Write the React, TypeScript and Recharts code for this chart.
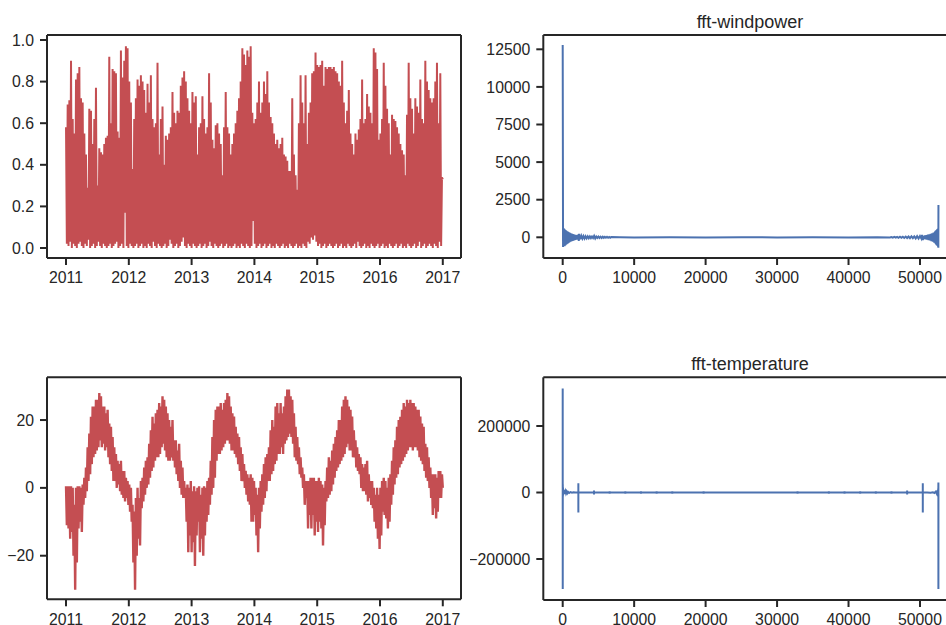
import { LineChart, Line, XAxis, YAxis, ReferenceLine } from "recharts";

// tick labels
const years = [2011, 2012, 2013, 2014, 2015, 2016, 2017];
const windTicks = [0, 0.2, 0.4, 0.6, 0.8, 1.0];
const tempTicks = [-20, 0, 20];
const binTicks = [0, 10000, 20000, 30000, 40000, 50000];
const fftWindTicks = [0, 2500, 5000, 7500, 10000, 12500];
const fftTempTicks = [-200000, 0, 200000];

// windpower: per-column max / min, 2011 -> 2017
const windMax = [
  0.58, 0.69, 0.71, 0.9, 0.62, 0.55, 0.81, 0.84, 0.87, 0.72, 0.7, 0.55, 0.45, 0.29, 0.67, 0.66, 0.5, 0.62, 0.77, 0.3,
  0.48, 0.46, 0.45, 0.5, 0.53, 0.54, 0.92, 0.6, 0.86, 0.85, 0.84, 0.56, 0.53, 0.95, 0.82, 0.9, 0.97, 0.96, 0.8, 0.7,
  0.38, 0.62, 0.72, 0.81, 0.78, 0.83, 0.8, 0.76, 0.65, 0.79, 0.7, 0.83, 0.62, 0.58, 0.6, 0.89, 0.45, 0.62, 0.68, 0.4,
  0.54, 0.52, 0.55, 0.58, 0.75, 0.65, 0.6, 0.66, 0.65, 0.78, 0.82, 0.85, 0.8, 0.72, 0.66, 0.6, 0.75, 0.7, 0.73, 0.45,
  0.58, 0.6, 0.73, 0.62, 0.55, 0.58, 0.84, 0.7, 0.52, 0.48, 0.59, 0.6, 0.55, 0.5, 0.35, 0.58, 0.75, 0.58, 0.55, 0.45,
  0.5, 0.55, 0.6, 0.66, 0.72, 0.8, 0.96, 0.93, 0.88, 0.95, 0.92, 0.97, 0.65, 0.6, 0.62, 0.7, 0.8, 0.65, 0.7, 0.8,
  0.74, 0.85, 0.7, 0.63, 0.6, 0.55, 0.5, 0.52, 0.48, 0.5, 0.53, 0.45, 0.44, 0.42, 0.37, 0.37, 0.72, 0.45, 0.35, 0.28,
  0.6, 0.83, 0.7, 0.6, 0.83, 0.5, 0.65, 0.7, 0.84, 0.85, 0.94, 0.88, 0.87, 0.88, 0.9, 0.78, 0.87, 0.86, 0.87, 0.87,
  0.86, 0.87, 0.85, 0.84, 0.8, 0.78, 0.9, 0.7, 0.6, 0.66, 0.76, 0.55, 0.5, 0.45, 0.55, 0.52, 0.57, 0.62, 0.81, 0.6,
  0.62, 0.74, 0.68, 0.65, 0.6, 0.96, 0.94, 0.86, 0.52, 0.55, 0.62, 0.89, 0.78, 0.67, 0.6, 0.45, 0.64, 0.62, 0.61, 0.58,
  0.55, 0.5, 0.47, 0.45, 0.35, 0.64, 0.89, 0.72, 0.67, 0.55, 0.72, 0.68, 0.65, 0.81, 0.62, 0.6, 0.9, 0.8, 0.76, 0.72,
  0.7, 0.72, 0.8, 0.89, 0.6, 0.84, 0.34,
];
const windMin = [
  0.02, 0.01, 0.03, 0.0, 0.02, 0.01, 0.0, 0.02, 0.03, 0.01, 0.0, 0.02, 0.01, 0.04, 0.0, 0.01, 0.02, 0.0, 0.01, 0.03,
  0.01, 0.0, 0.02, 0.01, 0.0, 0.01, 0.02, 0.0, 0.01, 0.02, 0.03, 0.0, 0.01, 0.02, 0.0, 0.17, 0.01, 0.0, 0.02, 0.01,
  0.0, 0.01, 0.02, 0.0, 0.01, 0.02, 0.0, 0.01, 0.0, 0.02, 0.01, 0.0, 0.03, 0.01, 0.0, 0.02, 0.01, 0.0, 0.01, 0.02,
  0.0, 0.01, 0.04, 0.02, 0.0, 0.01, 0.02, 0.0, 0.01, 0.03, 0.05, 0.01, 0.0, 0.02, 0.01, 0.0, 0.02, 0.01, 0.0, 0.01,
  0.02, 0.0, 0.01, 0.02, 0.0, 0.01, 0.03, 0.01, 0.0, 0.02, 0.01, 0.0, 0.01, 0.02, 0.0, 0.01, 0.02, 0.0, 0.01, 0.0,
  0.01, 0.02, 0.0, 0.01, 0.0, 0.02, 0.01, 0.0, 0.02, 0.01, 0.0, 0.01, 0.13, 0.02, 0.0, 0.01, 0.02, 0.0, 0.01, 0.02,
  0.0, 0.01, 0.02, 0.0, 0.01, 0.0, 0.02, 0.01, 0.0, 0.01, 0.02, 0.0, 0.01, 0.0, 0.02, 0.01, 0.0, 0.01, 0.02, 0.0,
  0.01, 0.0, 0.02, 0.01, 0.0, 0.03, 0.02, 0.05, 0.04, 0.06, 0.03, 0.01, 0.02, 0.0, 0.01, 0.02, 0.0, 0.01, 0.02, 0.01,
  0.0, 0.01, 0.02, 0.0, 0.01, 0.02, 0.0, 0.01, 0.0, 0.02, 0.01, 0.0, 0.01, 0.02, 0.0, 0.03, 0.01, 0.0, 0.01, 0.02,
  0.0, 0.01, 0.0, 0.02, 0.01, 0.0, 0.01, 0.02, 0.0, 0.01, 0.02, 0.0, 0.01, 0.0, 0.02, 0.01, 0.0, 0.01, 0.02, 0.0,
  0.01, 0.02, 0.0, 0.01, 0.0, 0.02, 0.01, 0.0, 0.01, 0.02, 0.0, 0.01, 0.03, 0.0, 0.01, 0.02, 0.0, 0.01, 0.02, 0.01,
  0.0, 0.02, 0.01, 0.0, 0.03, 0.01, 0.33,
];

// temperature: per-column max / min, 2011 -> 2017
const tempMax = [
  0.5, 0.5, 0.5, 0.5, 0, -5, 0, 0.5, 0.5, 0, 1, 3, 6, 12, 16, 21, 24, 24, 26, 26,
  28, 27, 24, 24, 22, 23, 19, 18, 15, 12, 10, 8, 7, 8, 5, 5, 3, 2, 1, 0,
  -5, -7, -3, 0, -3, 2, 3, 6, 8, 9, 13, 17, 21, 19, 22, 23, 25, 24, 27, 26,
  24, 22, 20, 18, 20, 14, 14, 11, 13, 8, 6, 2, 0, 1, 0, 2, -1, 0.5, -1, 0,
  0.5, -2, 0, 0.5, 0, 2, 3, 8, 15, 20, 23, 24, 24, 25, 23, 25, 26, 28, 27, 24,
  22, 21, 18, 16, 15, 12, 10, 7, 5, 4, 3, 4, 3, 2, 0, -2, 0, 2, 4, 7,
  9, 10, 12, 17, 20, 18, 24, 25, 22, 25, 22, 24, 27, 29, 29, 27, 26, 22, 18, 15,
  12, 9, 6, 4, 2, 2, 2, 3, 3, 3, 2, 2, 3, 2, 1, 0, 2, 6, 9, 8,
  11, 13, 15, 17, 20, 20, 24, 26, 27, 26, 24, 23, 21, 17, 14, 12, 10, 9, 7, 6,
  7, 8, 4, 2, 2, 0, -2, 0, -2, 0, 2, 3, 2, 0, 3, 4, 8, 12, 14, 18,
  20, 21, 23, 25, 24, 26, 25, 26, 25, 25, 24, 23, 23, 21, 19, 18, 13, 12, 9, 6,
  4, 4, 4, 3, 5, 5, 4,
];
const tempMin = [
  -11, -12, -15, -13, -20, -30, -22, -12, -10, -13, -5, -3, -1, 2, 4, 7, 9, 10, 11, 12,
  14, 12, 13, 11, 12, 9, 7, 5, 2, 2, 0, 1, -1, -2, -3, -4, -3, -5, -7, -10,
  -22, -30, -20, -15, -17, -6, -4, -2, 0, 1, 3, 5, 6, 8, 9, 9, 10, 12, 13, 11,
  9, 8, 8, 9, 8, 6, 4, 2, 0, -2, -3, -3, -10, -19, -14, -19, -16, -23, -14, -10,
  -19, -15, -20, -14, -10, -8, -5, -2, 0, 3, 8, 10, 10, 11, 12, 13, 14, 14, 13, 11,
  11, 10, 9, 7, 5, 2, 2, 0, -2, -4, -5, -10, -10, -8, -14, -19, -12, -7, -5, -3,
  -1, 2, 2, 4, 5, 7, 8, 10, 10, 12, 10, 13, 14, 15, 16, 15, 13, 9, 8, 7,
  4, 3, 0, -5, -3, -12, -8, -12, -8, -14, -10, -13, -10, -12, -17, -11, -4, -3, -2, -1,
  1, 3, 5, 6, 7, 8, 9, 10, 12, 13, 11, 11, 9, 9, 6, 5, 4, 0, -1, -1,
  -2, -4, -3, -5, -6, -10, -12, -15, -18, -14, -7, -8, -9, -12, -10, -5, -2, 1, 3, 4,
  6, 7, 8, 9, 10, 11, 12, 12, 11, 12, 12, 11, 9, 8, 7, 5, 3, 2, 0, -3,
  -8, -6, -9, -7, -3, -3, 0,
];

// fft of windpower (real part) at selected bins
const fftWindBins = [
  0, 50, 100, 150, 200, 250, 300, 350, 400, 450, 500, 550, 600, 650, 700, 750, 800, 850, 900, 950,
  1000, 1050, 1100, 1150, 1200, 1250, 1300, 1350, 1400, 1450, 1500, 1550, 1600, 1650, 1700, 1750, 1800, 1850, 1900, 1950,
  2000, 2050, 2100, 2150, 2200, 2250, 2300, 2350, 2400, 2450,
  2600, 2750, 2900, 3050, 3200, 3350, 3500, 3650, 3800, 3950, 4100, 4250, 4400, 4550, 4700, 4850, 5000, 5150, 5300, 5450,
  5600, 5750, 5900, 6050, 6200, 6350, 6500, 6650, 6800,
  8000, 10000, 15000, 20000, 25000, 30000, 35000, 40000, 44000, 45800,
  46000, 46200, 46400, 46600, 46800, 47000, 47200, 47400, 47600, 47800, 48000, 48200, 48400, 48600, 48800, 49000, 49200,
  49400, 49600, 49800, 50000, 50200, 50300, 50400, 50500, 50600, 50700, 50800, 50900, 51000, 51100, 51200, 51300, 51400,
  51500, 51600, 51700, 51800, 51900, 52000, 52100, 52150, 52200, 52250, 52300, 52350, 52400, 52450, 52500, 52540, 52560,
  52570, 52583,
];
const fftWindVals = [
  12786, -640, 610, -600, 560, -590, 520, -540, 480, -500, 430, -460, 400, -420, 380, -390, 350, -360, 320, -330,
  300, -300, 270, -280, 250, -260, 230, -240, 210, -220, 200, -200, 180, -190, 170, -170, 160, -160, 150, -150,
  140, -140, 130, -130, 200, -250, 240, -160, 120, -110,
  100, -90, 80, -80, 70, -70, 65, -60, 60, -55, 55, -50, 90, -80, 50, -45, 45, -40, 40, -40,
  35, -35, 35, -30, 30, -30, 25, -25, 20,
  10, -10, 8, -8, 5, -5, 5, -8, 10, -15,
  20, -20, 25, -25, 30, -30, 35, -35, 40, -40, 45, -50, 50, -55, 60, -60, 65,
  -70, 75, -80, 85, -90, 160, -180, 100, -110, 120, -130, 140, -150, 170, -180, 200, -210,
  230, -250, 270, -290, 320, -350, 380, -410, 430, -470, 480, -520, 530, -580, 560, -650, 600,
  -700, 2150,
];

// fft of temperature (real part): spikes at year / day harmonics, flat between
const fftTempBins = [
  0, 6, 12, 25, 40, 60, 80, 110, 140, 180, 230, 300, 380, 460, 550, 650, 750, 900, 1100, 1300, 1500, 1800, 2100,
  2188, 2190, 2191, 2192, 2193, 2196,
  4379, 4382, 4383, 4386,
  6570, 6573, 6574, 6577,
  8761, 8764, 8765, 8768,
  10952, 10955, 10956, 10959,
  13143, 13146, 13147, 13150,
  15334, 15337, 15338, 15341,
  19716, 19719, 19720, 19723,
  32862, 32865, 32866, 32869,
  37244, 37247, 37248, 37251,
  39435, 39438, 39439, 39442,
  41626, 41629, 41630, 41633,
  43817, 43820, 43821, 43824,
  46008, 46011, 46012, 46015,
  48199, 48202, 48203, 48206,
  50390, 50392, 50393, 50394, 50395, 50398,
  51000, 51500, 51800, 52000, 52200, 52350, 52450, 52520, 52550, 52565, 52572, 52576, 52578, 52583,
];
const fftTempVals = [
  313000, -290000, 25000, -12000, 15000, -8000, 10000, -6000, 7000, -4000, 5000, -3000, 3500, -2500, 3000, -2000, 2000, -1500, 1000, -800, 500, -300, 0,
  0, -3000, 28000, -60000, 3000, 0,
  0, 6000, -6000, 0,
  0, 4000, -4000, 0,
  0, 4000, -4000, 0,
  0, 4000, -4000, 0,
  0, 3500, -3500, 0,
  0, 3500, -3500, 0,
  0, 3500, -3500, 0,
  0, 3500, -3500, 0,
  0, 3500, -3500, 0,
  0, 3500, -3500, 0,
  0, 4000, -4000, 0,
  0, 4000, -4000, 0,
  0, 4000, -4000, 0,
  0, 6000, -6000, 0,
  0, -3000, 28000, -60000, 3000, 0,
  300, -500, 800, -1500, 2500, -4000, 6000, -8000, 12000, -10000, 22000, 30000, -290000, -5000,
];

const INK = "#262626";
const RED = "#C44E52";
const BLUE = "#4C72B0";
const FONT = '"Liberation Sans", Arial, Helvetica, sans-serif';

// hourly series drawn as max/min pairs across the years
function band(high: number[], low: number[], start: number, end: number) {
  const n = Math.min(high.length, low.length);
  const out: { x: number; y: number }[] = [];
  for (let i = 0; i < n; i++) {
    out.push({ x: start + ((2 * i) / (2 * n - 1)) * (end - start), y: high[i] });
    out.push({ x: start + ((2 * i + 1) / (2 * n - 1)) * (end - start), y: low[i] });
  }
  return out;
}

function pairs(xs: number[], ys: number[]) {
  const n = Math.min(xs.length, ys.length);
  return xs.slice(0, n).map((x, i) => ({ x, y: ys[i] }));
}

const windData = band(windMax, windMin, 2011, 2017);
const tempData = band(tempMax, tempMin, 2011, 2017);
const fftWindData = pairs(fftWindBins, fftWindVals);
const fftTempData = pairs(fftTempBins, fftTempVals);

const minus = (v: number) => String(v).replace("-", "\u2212");

interface PanelProps {
  left: number;
  top: number;
  width: number;
  height: number;
  margin: { top: number; right: number; bottom: number; left: number };
  yWidth: number;
  data: { x: number; y: number }[];
  color: string;
  lineWidth: number;
  xDomain: [number, number];
  yDomain: [number, number];
  xTicks: number[];
  yTicks: number[];
  yFormat: (v: number) => string;
}

function Panel(p: PanelProps) {
  const tick = { fill: INK, fontSize: 15.8, fontFamily: FONT };
  const spine = { stroke: INK, strokeWidth: 2 };
  return (
    <div style={{ position: "absolute", left: p.left, top: p.top }}>
      <LineChart width={p.width} height={p.height} data={p.data} margin={p.margin}>
        <XAxis
          dataKey="x"
          type="number"
          domain={p.xDomain}
          ticks={p.xTicks}
          interval={0}
          height={30}
          tick={tick}
          tickSize={7}
          tickMargin={7}
          tickLine={spine}
          axisLine={spine}
        />
        <YAxis
          type="number"
          domain={p.yDomain}
          ticks={p.yTicks}
          interval={0}
          width={p.yWidth}
          tick={tick}
          tickSize={7}
          tickMargin={6}
          tickLine={spine}
          axisLine={spine}
          tickFormatter={p.yFormat}
        />
        <ReferenceLine y={p.yDomain[1]} stroke={INK} strokeWidth={2} />
        <ReferenceLine x={p.xDomain[1]} stroke={INK} strokeWidth={2} />
        <Line
          dataKey="y"
          type="linear"
          stroke={p.color}
          strokeWidth={p.lineWidth}
          dot={false}
          isAnimationActive={false}
        />
      </LineChart>
    </div>
  );
}

const titleStyle = {
  position: "absolute" as const,
  left: 550,
  width: 400,
  textAlign: "center" as const,
  fontFamily: FONT,
  fontSize: 18,
  lineHeight: 1,
  color: INK,
};

export default function App() {
  return (
    <div
      style={{
        position: "absolute",
        left: 0,
        top: 0,
        width: 946,
        height: 625,
        overflow: "hidden",
        background: "#fff",
      }}
    >
      <Panel
        left={0}
        top={0}
        width={470}
        height={300}
        margin={{ top: 35, right: 9, bottom: 12, left: 0 }}
        yWidth={47}
        data={windData}
        color={RED}
        lineWidth={2}
        xDomain={[2010.697, 2017.29]}
        yDomain={[-0.048, 1.024]}
        xTicks={years}
        yTicks={windTicks}
        yFormat={(v) => v.toFixed(1)}
      />
      <Panel
        left={470}
        top={0}
        width={500}
        height={300}
        margin={{ top: 35, right: 12.5, bottom: 12, left: 0 }}
        yWidth={73.3}
        data={fftWindData}
        color={BLUE}
        lineWidth={2}
        xDomain={[-2715, 55250]}
        yDomain={[-1376, 13451]}
        xTicks={binTicks}
        yTicks={fftWindTicks}
        yFormat={minus}
      />
      <Panel
        left={0}
        top={340}
        width={470}
        height={300}
        margin={{ top: 37.3, right: 9, bottom: 10.7, left: 0 }}
        yWidth={47}
        data={tempData}
        color={RED}
        lineWidth={2.4}
        xDomain={[2010.697, 2017.29]}
        yDomain={[-32.85, 32.6]}
        xTicks={years}
        yTicks={tempTicks}
        yFormat={minus}
      />
      <Panel
        left={470}
        top={340}
        width={500}
        height={300}
        margin={{ top: 37.3, right: 12.5, bottom: 10, left: 0 }}
        yWidth={73.3}
        data={fftTempData}
        color={BLUE}
        lineWidth={2}
        xDomain={[-2715, 55250]}
        yDomain={[-323300, 346500]}
        xTicks={binTicks}
        yTicks={fftTempTicks}
        yFormat={minus}
      />
      <div style={{ ...titleStyle, top: 12.8 }}>fft-windpower</div>
      <div style={{ ...titleStyle, top: 354.8 }}>fft-temperature</div>
    </div>
  );
}
